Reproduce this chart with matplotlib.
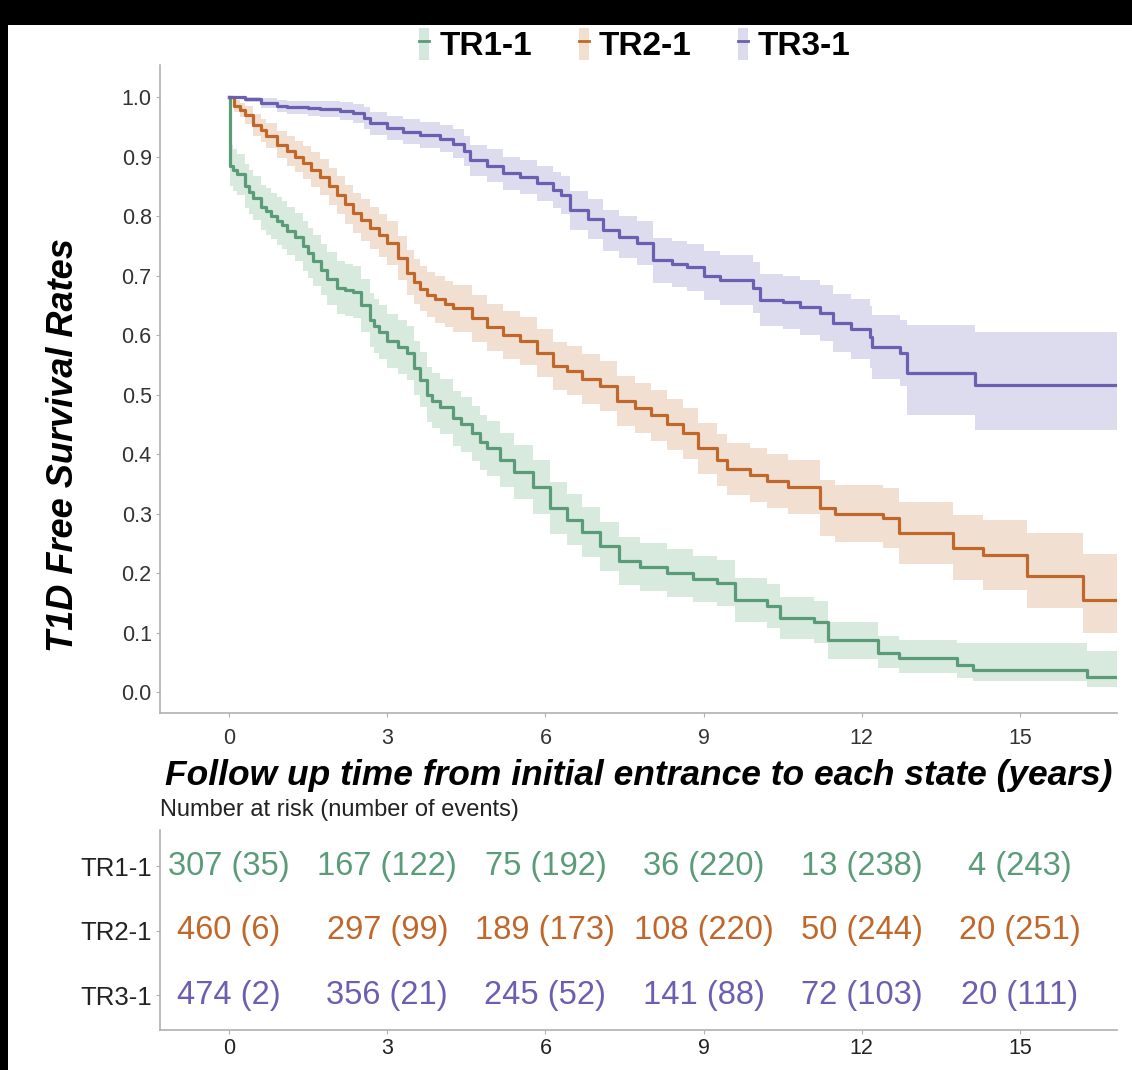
import matplotlib.pyplot as plt
from matplotlib.patches import Patch, Rectangle
from matplotlib.lines import Line2D

plt.rcParams['font.family'] = ['Liberation Sans', 'DejaVu Sans']

groups = ['TR1-1', 'TR2-1', 'TR3-1']
line_colors = ['#5a9b78', '#c0672b', '#6a5fb0']
band_colors = ['#d6e8dd', '#f1dfd0', '#dcdbee']

# Kaplan-Meier estimates (years, survival, 95% band)
t_tr1 = [0, 0.02, 0.08, 0.15, 0.3, 0.38, 0.46, 0.6, 0.7, 0.8, 0.9, 1.0, 1.1, 1.25, 1.4, 1.5,
         1.6, 1.75, 1.86, 2.05, 2.2, 2.35, 2.5, 2.67, 2.75, 2.85, 3.0, 3.2, 3.37, 3.5, 3.62,
         3.75, 3.85, 4.0, 4.25, 4.4, 4.6, 4.75, 4.9, 5.14, 5.4, 5.77, 6.09, 6.4, 6.7, 7.04,
         7.4, 7.8, 8.3, 8.8, 9.25, 9.6, 10.2, 10.45, 11.1, 11.35, 12.3, 12.7, 13.8, 14.1, 16.27]
s_tr1 = [1.0, 0.885, 0.878, 0.87, 0.85, 0.84, 0.83, 0.815, 0.808, 0.80, 0.792, 0.785, 0.775,
         0.765, 0.75, 0.738, 0.725, 0.71, 0.695, 0.68, 0.676, 0.672, 0.65, 0.625, 0.615, 0.605,
         0.59, 0.58, 0.57, 0.545, 0.525, 0.50, 0.49, 0.48, 0.46, 0.45, 0.435, 0.42, 0.41, 0.39,
         0.37, 0.345, 0.31, 0.29, 0.27, 0.245, 0.22, 0.21, 0.20, 0.19, 0.183, 0.155, 0.145,
         0.125, 0.118, 0.087, 0.066, 0.057, 0.045, 0.037, 0.025]
lo_tr1 = [1.0, 0.85, 0.843, 0.835, 0.814, 0.803, 0.793, 0.777, 0.769, 0.761, 0.752, 0.745,
          0.735, 0.724, 0.708, 0.696, 0.682, 0.667, 0.651, 0.636, 0.632, 0.628, 0.605, 0.58,
          0.57, 0.56, 0.545, 0.535, 0.524, 0.499, 0.479, 0.454, 0.444, 0.434, 0.414, 0.404,
          0.389, 0.374, 0.364, 0.344, 0.324, 0.30, 0.266, 0.247, 0.228, 0.204, 0.18, 0.17,
          0.16, 0.151, 0.144, 0.118, 0.108, 0.09, 0.083, 0.056, 0.04, 0.033, 0.024, 0.018, 0.008]
hi_tr1 = [1.0, 0.92, 0.913, 0.905, 0.887, 0.877, 0.868, 0.853, 0.847, 0.839, 0.832, 0.825,
          0.815, 0.806, 0.792, 0.78, 0.768, 0.753, 0.739, 0.724, 0.72, 0.716, 0.695, 0.67,
          0.66, 0.65, 0.635, 0.625, 0.616, 0.591, 0.571, 0.546, 0.536, 0.526, 0.506, 0.496,
          0.481, 0.466, 0.456, 0.436, 0.416, 0.39, 0.354, 0.333, 0.312, 0.286, 0.26, 0.25,
          0.24, 0.229, 0.222, 0.192, 0.182, 0.16, 0.153, 0.118, 0.095, 0.087, 0.083, 0.082, 0.07]

t_tr2 = [0, 0.1, 0.2, 0.3, 0.46, 0.6, 0.7, 0.9, 1.1, 1.25, 1.4, 1.55, 1.73, 1.9, 2.05, 2.2,
         2.35, 2.5, 2.67, 2.85, 3.0, 3.2, 3.37, 3.5, 3.62, 3.75, 3.9, 4.1, 4.25, 4.6, 4.9, 5.2,
         5.52, 5.84, 6.15, 6.4, 6.7, 7.04, 7.35, 7.7, 8.0, 8.3, 8.6, 8.9, 9.25, 9.44, 9.88,
         10.2, 10.6, 11.2, 11.5, 12.4, 12.7, 13.73, 14.3, 15.13, 16.2]
s_tr2 = [1.0, 0.985, 0.978, 0.97, 0.953, 0.944, 0.935, 0.92, 0.91, 0.90, 0.89, 0.878, 0.866,
         0.85, 0.835, 0.82, 0.805, 0.793, 0.78, 0.768, 0.755, 0.73, 0.705, 0.69, 0.678, 0.668,
         0.66, 0.652, 0.645, 0.628, 0.613, 0.60, 0.59, 0.57, 0.548, 0.54, 0.527, 0.515, 0.49,
         0.478, 0.465, 0.45, 0.435, 0.41, 0.39, 0.375, 0.365, 0.355, 0.345, 0.31, 0.30, 0.293,
         0.268, 0.243, 0.23, 0.195, 0.155]
lo_tr2 = [1.0, 0.975, 0.966, 0.955, 0.935, 0.925, 0.914, 0.897, 0.885, 0.874, 0.862, 0.849,
          0.836, 0.819, 0.803, 0.787, 0.771, 0.758, 0.745, 0.732, 0.718, 0.693, 0.667, 0.652,
          0.64, 0.63, 0.621, 0.613, 0.606, 0.588, 0.573, 0.56, 0.549, 0.529, 0.507, 0.499,
          0.485, 0.473, 0.448, 0.436, 0.422, 0.407, 0.392, 0.367, 0.346, 0.331, 0.32, 0.31,
          0.299, 0.263, 0.252, 0.243, 0.216, 0.188, 0.172, 0.141, 0.099]
hi_tr2 = [1.0, 0.995, 0.99, 0.985, 0.971, 0.963, 0.956, 0.943, 0.935, 0.926, 0.918, 0.907,
          0.896, 0.881, 0.867, 0.853, 0.839, 0.828, 0.815, 0.804, 0.792, 0.767, 0.743, 0.728,
          0.716, 0.706, 0.699, 0.691, 0.684, 0.668, 0.653, 0.64, 0.631, 0.611, 0.589, 0.581,
          0.569, 0.557, 0.532, 0.52, 0.508, 0.493, 0.478, 0.453, 0.434, 0.419, 0.41, 0.40,
          0.391, 0.357, 0.348, 0.343, 0.32, 0.298, 0.29, 0.267, 0.233]

t_tr3 = [0, 0.3, 0.6, 0.9, 1.1, 1.5, 1.73, 2.1, 2.35, 2.55, 2.67, 3.0, 3.3, 3.62, 4.0, 4.25,
         4.45, 4.57, 4.9, 5.2, 5.52, 5.84, 6.15, 6.3, 6.47, 6.8, 7.1, 7.4, 7.74, 8.04, 8.4,
         8.69, 9.0, 9.31, 9.94, 10.07, 10.5, 10.83, 11.2, 11.45, 11.8, 12.16, 12.2, 12.73,
         12.85, 14.15]
s_tr3 = [1.0, 0.997, 0.99, 0.985, 0.983, 0.981, 0.98, 0.977, 0.973, 0.965, 0.956, 0.948,
         0.942, 0.936, 0.93, 0.922, 0.91, 0.894, 0.885, 0.872, 0.866, 0.855, 0.844, 0.835,
         0.81, 0.795, 0.776, 0.765, 0.755, 0.726, 0.72, 0.714, 0.70, 0.692, 0.68, 0.659,
         0.655, 0.647, 0.637, 0.62, 0.61, 0.597, 0.58, 0.57, 0.536, 0.516]
lo_tr3 = [1.0, 0.992, 0.982, 0.975, 0.972, 0.968, 0.966, 0.962, 0.957, 0.947, 0.937, 0.928,
          0.921, 0.914, 0.907, 0.898, 0.885, 0.868, 0.858, 0.844, 0.837, 0.825, 0.813, 0.803,
          0.777, 0.761, 0.741, 0.729, 0.718, 0.688, 0.681, 0.674, 0.659, 0.65, 0.637, 0.615,
          0.61, 0.601, 0.59, 0.571, 0.56, 0.545, 0.526, 0.515, 0.466, 0.44]
hi_tr3 = [1.0, 1.0, 0.998, 0.995, 0.994, 0.994, 0.994, 0.992, 0.989, 0.983, 0.975, 0.968,
          0.963, 0.958, 0.953, 0.946, 0.935, 0.92, 0.912, 0.90, 0.895, 0.885, 0.875, 0.867,
          0.843, 0.829, 0.811, 0.801, 0.792, 0.764, 0.759, 0.754, 0.741, 0.734, 0.723, 0.703,
          0.70, 0.693, 0.684, 0.669, 0.66, 0.649, 0.634, 0.625, 0.617, 0.605]

t_end = 16.84

# risk table
risk_times = [0, 3, 6, 9, 12, 15]
at_risk_tr1 = [307, 167, 75, 36, 13, 4]
events_tr1 = [35, 122, 192, 220, 238, 243]
at_risk_tr2 = [460, 297, 189, 108, 50, 20]
events_tr2 = [6, 99, 173, 220, 244, 251]
at_risk_tr3 = [474, 356, 245, 141, 72, 20]
events_tr3 = [2, 21, 52, 88, 103, 111]

curves = [(t_tr1, s_tr1, lo_tr1, hi_tr1), (t_tr2, s_tr2, lo_tr2, hi_tr2),
          (t_tr3, s_tr3, lo_tr3, hi_tr3)]
risk = [(at_risk_tr1, events_tr1), (at_risk_tr2, events_tr2), (at_risk_tr3, events_tr3)]

fig = plt.figure(figsize=(11.32, 10.7), dpi=100, facecolor='black')
# screenshot: white page with a black strip on top and left
fig.patches.append(Rectangle((8 / 1132, 0), 1, 1 - 25 / 1070, transform=fig.transFigure,
                             facecolor='white', edgecolor='none', zorder=-10))

ax = fig.add_axes([160 / 1132, 1 - 713 / 1070, 957 / 1132, 648 / 1070])
ax.set_facecolor('white')
for (t, s, lo, hi), lc, bc in zip(curves, line_colors, band_colors):
    ax.fill_between(t + [t_end], lo + [lo[-1]], hi + [hi[-1]], step='post',
                    color=bc, linewidth=0, alpha=0.95)
for (t, s, lo, hi), lc in zip(curves, line_colors):
    ax.step(t + [t_end], s + [s[-1]], where='post', color=lc, linewidth=2.3)

ax.set_xlim(-1.31, t_end)
ax.set_ylim(-0.035, 1.054)
ax.set_xticks(risk_times)
ax.set_yticks([i / 10 for i in range(11)])
ax.set_yticklabels(['%.1f' % (i / 10) for i in range(11)])
for sp in ['top', 'right']:
    ax.spines[sp].set_visible(False)
for sp in ['left', 'bottom']:
    ax.spines[sp].set_color('#b0b0b0')
    ax.spines[sp].set_linewidth(1.2)
ax.tick_params(colors='#b0b0b0', labelcolor='#333333', labelsize=15.5, length=3, pad=3)
ax.tick_params(axis='x', pad=8)
ax.set_ylabel('T1D Free Survival Rates', fontsize=26, fontweight='bold', fontstyle='italic')
ax.yaxis.set_label_coords(-0.083, 0.414)
ax.set_xlabel('Follow up time from initial entrance to each state (years)', fontsize=25.5,
              fontweight='bold', fontstyle='italic', labelpad=7, color='black')

handles = [(Patch(facecolor=bc, edgecolor='none'), Line2D([], [], color=lc, linewidth=2))
           for lc, bc in zip(line_colors, band_colors)]
fig.legend(handles, groups, loc='center', bbox_to_anchor=(0.561, 0.958), ncol=3, frameon=False,
           prop={'weight': 'bold', 'size': 24}, handlelength=0.3, handleheight=1.1,
           handletextpad=0.3, columnspacing=1.4)

fig.text(160 / 1132, 1 - 810 / 1070, 'Number at risk (number of events)', fontsize=17,
         va='center', ha='left', color='#222222')

rax = fig.add_axes([160 / 1132, 1 - 1030 / 1070, 957 / 1132, 200 / 1070])
rax.set_xlim(-1.31, t_end)
rax.set_ylim(0.46, 3.56)
for row, ((n, e), lc) in enumerate(zip(risk, line_colors)):
    y = 3 - row
    for x, a, b in zip(risk_times, n, e):
        rax.text(x, y, '%d (%d)' % (a, b), color=lc, fontsize=23.5, ha='center', va='center')
rax.set_yticks([3, 2, 1])
rax.set_yticklabels(groups)
rax.set_xticks(risk_times)
for sp in ['top', 'right']:
    rax.spines[sp].set_visible(False)
for sp in ['left', 'bottom']:
    rax.spines[sp].set_color('#b0b0b0')
    rax.spines[sp].set_linewidth(1.2)
rax.tick_params(colors='#b0b0b0', labelcolor='#222222', labelsize=15.5, length=3, pad=3)
rax.tick_params(axis='y', labelsize=18.5)

fig.savefig('out.png', dpi=100, facecolor=fig.get_facecolor())
